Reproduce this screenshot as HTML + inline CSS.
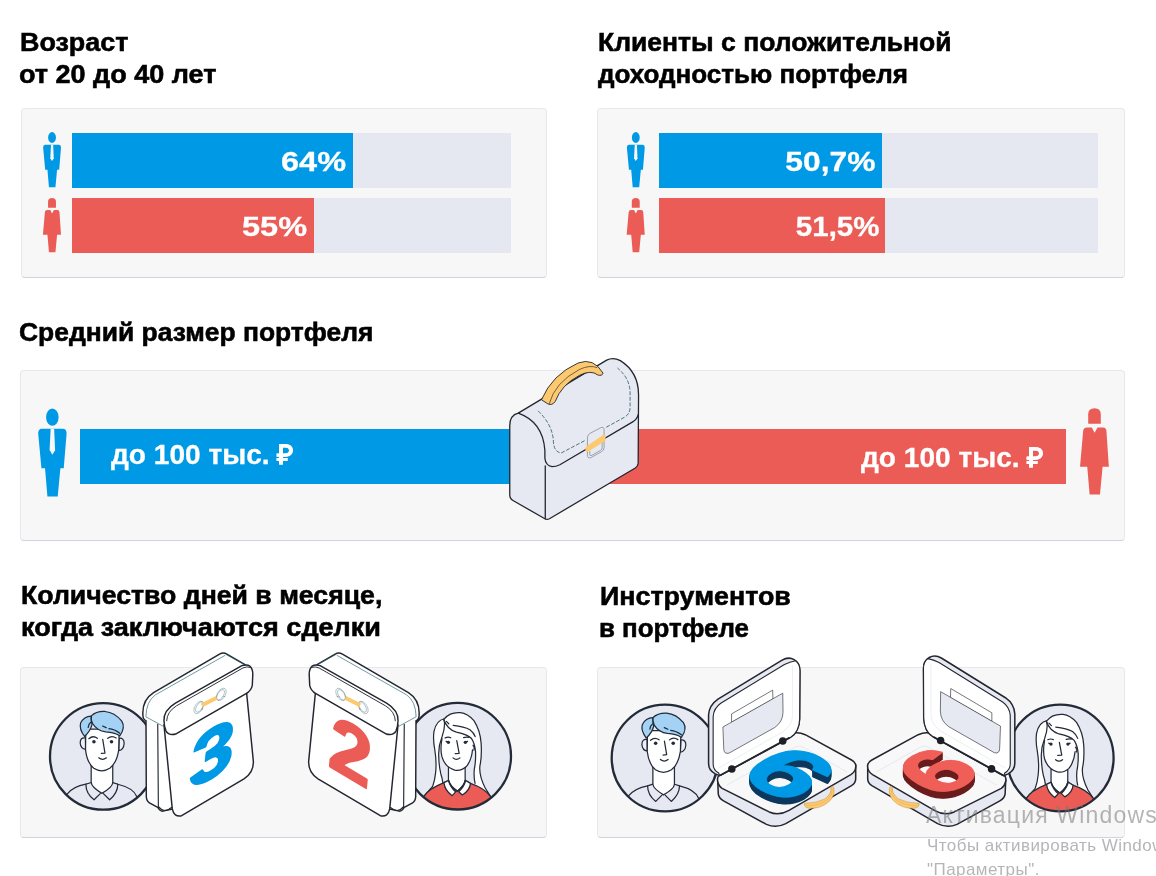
<!DOCTYPE html>
<html lang="ru">
<head>
<meta charset="utf-8">
<title>Инфографика</title>
<style>
html,body{margin:0;padding:0;background:#fff;}
body{width:1156px;height:876px;position:relative;overflow:hidden;font-family:"Liberation Sans",sans-serif;}
.h{position:absolute;font-weight:700;font-size:25px;line-height:32px;color:#000;white-space:nowrap;margin:0;transform-origin:0 0;transform:scaleX(1.07);-webkit-text-stroke:.55px #000;}
.panel{position:absolute;background:#f7f7f7;border:1px solid #e6e8ee;border-bottom-color:#cfd3de;border-radius:4px;box-sizing:border-box;}
.track{position:absolute;height:55px;background:#e5e8f1;}
.bar{position:absolute;height:55px;box-sizing:border-box;color:#fff;font-weight:700;font-size:28px;line-height:55px;text-align:right;white-space:nowrap;}
.bar span{-webkit-text-stroke:.3px #fff;display:inline-block;position:relative;top:1px;transform-origin:100% 50%;transform:scaleX(1.16);}
.mid{-webkit-text-stroke:.3px #fff;position:absolute;color:#fff;font-weight:700;font-size:27px;line-height:30px;white-space:nowrap;transform-origin:0 50%;transform:scaleX(1.04);}
.blue{background:#0099e5;}
.red{background:#ea5c55;}
svg{position:absolute;left:0;top:0;overflow:visible;}
.wm{position:absolute;color:rgba(120,120,120,.55);white-space:nowrap;font-weight:400;}
</style>
</head>
<body>
<div class="h" style="left:19.7px;top:26px;transform:scaleX(1.076);">Возраст</div>
<div class="h" style="left:19.2px;top:58px;transform:scaleX(1.08);">от 20 до 40 лет</div>
<div class="h" style="left:598.1px;top:26px;transform:scaleX(1.0606);">Клиенты с положительной</div>
<div class="h" style="left:597.7px;top:58px;transform:scaleX(1.04);">доходностью портфеля</div>
<div class="h" style="left:19px;top:316px;transform:scaleX(1.0574);">Средний размер портфеля</div>
<div class="h" style="left:21px;top:579.2px;transform:scaleX(1.066);">Количество дней в месяце,</div>
<div class="h" style="left:21px;top:611px;transform:scaleX(1.082);">когда заключаются сделки</div>
<div class="h" style="left:599.7px;top:579.5px;transform:scaleX(1.0734);">Инструментов</div>
<div class="h" style="left:598.7px;top:611.5px;transform:scaleX(1.0358);">в портфеле</div>

<div class="panel" style="left:21px;top:108px;width:526px;height:170px;"></div>
<div class="panel" style="left:597px;top:108px;width:528px;height:170px;"></div>
<div class="panel" style="left:20px;top:370px;width:1105px;height:171px;"></div>
<div class="panel" style="left:20px;top:667px;width:527px;height:171px;"></div>
<div class="panel" style="left:597px;top:667px;width:528px;height:171px;"></div>

<!-- panel 1 bars -->
<div class="track" style="left:72px;top:132.5px;width:439px;"></div>
<div class="track" style="left:72px;top:197.5px;width:439px;"></div>
<div class="bar blue" style="left:72px;top:132.5px;width:281px;padding-right:7px;"><span>64%</span></div>
<div class="bar red" style="left:72px;top:197.5px;width:241.5px;padding-right:6px;"><span>55%</span></div>

<!-- panel 2 bars -->
<div class="track" style="left:659px;top:132.5px;width:439px;"></div>
<div class="track" style="left:659px;top:197.5px;width:439px;"></div>
<div class="bar blue" style="left:659px;top:132.5px;width:222.5px;padding-right:6px;"><span style="transform:scaleX(1.134)">50,7%</span></div>
<div class="bar red" style="left:659px;top:197.5px;width:226px;padding-right:6px;"><span style="transform:scaleX(1.052)">51,5%</span></div>

<!-- panel 3 bars -->
<div class="bar blue" style="left:80px;top:429px;width:495px;height:54.5px;line-height:54px;text-align:left;"></div>
<div class="bar red" style="left:575px;top:429px;width:490.5px;height:54.5px;line-height:54px;"></div>

<div class="mid" style="left:110.5px;top:439.5px;">до 100 тыс. ₽</div>
<div class="mid" style="left:860.5px;top:442.5px;">до 100 тыс. ₽</div>
<svg id="art" width="1156" height="876" viewBox="0 0 1156 876">
<defs>
<g id="man"><ellipse cx="213" cy="153" rx="52" ry="72"/><path d="M125,250 L300,250 Q332,250 332,290 L308,580 L280,580 L258,815 L172,815 L152,580 L122,580 L95,290 Q95,250 125,250 Z"/><path d="M199,250 L228,250 L236,430 L213,466 L190,428 Z" fill="#f7f7f7"/></g>
<g id="woman"><path d="M160,210 L160,130 Q160,80 213,80 Q265,80 265,130 L265,210 Z"/><path d="M150,240 L190,240 L213,285 L238,240 L285,240 Q310,240 312,270 L332,568 L280,568 L258,800 L172,800 L152,568 L92,568 L118,270 Q120,240 150,240 Z"/></g>
</defs>
<g fill="#0099e5">
<use href="#man" transform="translate(36,126) scale(0.0753)"/>
<use href="#man" transform="translate(619.75,126) scale(0.0753)"/>
<use href="#man" transform="translate(26.8,398.8) scale(0.1199)"/>
</g>
<g fill="#ea5c55">
<use href="#woman" transform="translate(36,192) scale(0.0753)"/>
<use href="#woman" transform="translate(619.75,192) scale(0.0753)"/>
<use href="#woman" transform="translate(1069,398.6) scale(0.12)"/>
</g>
<g transform="translate(500,350) scale(0.1301)" stroke="#23262f" stroke-width="10" stroke-linejoin="round" stroke-linecap="round" fill="none">
<path d="M75,582 Q75,500 140,485 L820,78 Q870,52 925,82 Q1065,170 1065,345 L1062,872 Q1060,892 1040,907 L380,1297 Q360,1307 345,1297 L100,1157 Q75,1142 75,1112 Z" fill="#e6e9f2"/>
<path d="M140,485 Q330,552 345,772 L345,832 Q350,887 400,897 Q430,897 460,882 L1020,552 Q1055,532 1063,495"/>
<path d="M348,890 L348,1297"/>
<path d="M295,470 Q400,572 410,692 Q410,782 470,792 L660,692 M820,592 L960,515 Q1000,490 1000,440 L1000,330 Q1000,220 905,140" stroke="#345f62" stroke-width="6.5" stroke-dasharray="24 19"/>
<path d="M320,380 Q400,190 600,100 Q720,55 792,178 Q785,202 752,192 Q700,150 610,195 Q470,270 425,395 Q400,430 370,415 Z" fill="#fdc96f" stroke-width="7"/>
<path d="M378,414 Q420,250 610,150 Q690,112 745,135" stroke-width="5"/>
<path d="M672,672 Q672,652 690,642 L775,597 Q800,587 800,612 L800,752 Q800,772 780,782 L700,827 Q672,837 672,812 Z" fill="#e6e9f2" stroke="#6f7782" stroke-width="5"/>
<path d="M690,782 L690,802 Q690,817 705,810 L775,770 Q785,764 785,752 L785,707" stroke="#6f7782" stroke-width="5"/>
<path d="M668,738 L792,654 Q812,646 812,668 L810,698 L678,782 Q656,790 656,766 Q656,746 668,738 Z" fill="#fdc96f" stroke="none"/>
</g>

<defs>
<clipPath id="avclip"><circle r="53.3"/></clipPath>
<g id="avm">
<circle r="53.3" fill="#e6e9f2"/>
<g clip-path="url(#avclip)" stroke="#232b38" stroke-linecap="round" stroke-linejoin="round" fill="none">
<g transform="translate(-43.5,3.7) scale(0.07786)" stroke-width="16">
<path d="M335,310 Q170,340 90,440 L90,700 L990,700 L990,470 Q950,360 745,310 Z" fill="#e6e9f2"/>
<path d="M403,40 L403,290 Q410,350 540,425 Q675,350 680,290 L680,40 Z" fill="#fff"/>
<path d="M403,288 L335,310 Q335,430 440,510 L520,430" fill="#e6e9f2"/>
<path d="M682,290 L745,310 Q745,420 640,510 L560,430" fill="#e6e9f2"/>
<path d="M403,290 Q410,350 540,425 Q675,350 680,290" fill="#fff"/>
</g>
<g transform="translate(-33.5,-51.3) scale(0.07991)" stroke-width="15.5">
<path d="M195,410 Q130,400 130,475 Q135,545 198,555 Z" fill="#eef0f6"/>
<path d="M618,415 Q680,410 680,480 Q675,560 612,570 Z" fill="#eef0f6"/>
<path d="M200,300 L197,560 Q215,720 300,790 Q400,855 500,790 Q590,720 612,560 L618,300 Z" fill="#fff"/>
<path d="M268,137 Q175,140 135,225 Q115,300 185,392 Q255,330 278,245 Q262,190 268,137 Z" fill="#a3d2f5"/>
<path d="M270,135 Q330,75 440,80 Q560,90 650,200 Q700,280 625,385 Q560,340 450,335 Q340,320 285,230 Q262,180 270,135 Z" fill="#a3d2f5"/>
<path d="M262,215 Q235,235 230,280 M410,262 L455,282 M490,295 Q560,300 625,352"/>
<path d="M238,420 Q290,375 345,415 M475,415 Q525,375 580,412"/>
<circle cx="302" cy="458" r="22" fill="#232b38" stroke="none"/><circle cx="522" cy="458" r="22" fill="#232b38" stroke="none"/>
<path d="M412,430 L440,600 L395,605 M362,660 Q410,700 458,660"/>
</g>
</g>
<circle r="53.3" fill="none" stroke="#232b38" stroke-width="2.3"/>
</g>
<g id="avw">
<circle r="53.3" fill="#e6e9f2"/>
<g clip-path="url(#avclip)" stroke="#232b38" stroke-linecap="round" stroke-linejoin="round" fill="none">
<g transform="translate(-34.9,-51.2) scale(0.07991)" stroke-width="15.5">
<path d="M270,172 Q340,85 470,95 Q560,105 640,195 Q720,320 730,480 Q740,650 715,760 Q700,880 781,1039 L849,1146 L11,1146 L123,1020 Q150,950 160,850 Q175,720 150,560 Q125,430 140,330 Q170,190 270,172 Z" fill="#fff"/>
<path d="M228,460 Q195,560 200,650 Q202,760 225,860 Q245,920 250,971 L265,971 L321,944 L321,790 Q270,740 240,650 Q215,560 228,460 Z" fill="#e6e9f2" stroke="none"/>
<path d="M625,450 Q655,500 660,580 Q665,700 645,800 Q635,900 654,981 L596,981 L537,944 L530,942 L530,790 Q600,720 622,560 Z" fill="#e6e9f2" stroke="none"/>
<path d="M11,1146 Q70,1049 265,971 L321,944 L430,1078 L537,944 L596,981 Q771,1039 849,1146 L849,1330 L11,1330 Z" fill="#ea5c55"/>
<path d="M321,780 L321,942 Q343,1020 432,1078 Q518,1010 530,942 L530,780 Z" fill="#fff"/>
<path d="M321,944 L265,971 Q274,1068 367,1135 L411,1088 Q343,1030 321,944 Z" fill="#fff"/>
<path d="M537,944 L596,981 Q591,1068 494,1127 L450,1086 Q520,1020 537,944 Z" fill="#fff"/>
<path d="M321,942 Q343,1020 432,1078 Q518,1010 530,942"/>
<path d="M240,380 Q215,560 240,650 Q280,780 400,815 Q480,830 545,770 Q610,690 622,560 L612,400 L420,330 L290,270 Z" fill="#fff" stroke="none"/>
<path d="M240,420 Q215,560 240,650 Q280,780 400,815 Q480,830 545,770 Q610,690 622,560"/>
<path d="M628,505 Q655,525 640,565"/>
<path d="M262,178 Q300,300 420,340 Q560,370 610,420 Q650,480 660,580 Q665,700 645,800 Q635,900 654,981"/>
<path d="M262,180 Q290,260 240,400 Q190,520 200,650 Q202,760 225,860 Q245,920 250,971"/>
<path d="M380,255 Q520,270 590,310 Q640,350 655,395 M295,205 L325,235"/>
<path d="M280,412 Q315,395 350,410 M510,408 Q545,395 575,405 M292,455 L310,462 M560,455 L542,462"/>
<circle cx="320" cy="467" r="21" fill="#232b38" stroke="none"/><circle cx="532" cy="467" r="21" fill="#232b38" stroke="none"/>
<path d="M425,445 L455,605 L405,608 M378,662 Q420,700 465,662"/>
</g>
</g>
<circle r="53.3" fill="none" stroke="#232b38" stroke-width="2.3"/>
</g>
</defs>
<use href="#avm" transform="translate(103.3,756.4)"/>
<use href="#avw" transform="translate(457.7,756.2)"/>
<use href="#avm" transform="translate(665,758)"/>
<use href="#avw" transform="translate(1060.3,758)"/>
<defs>
<g id="cal" stroke="#23262f" stroke-width="14" stroke-linejoin="round" stroke-linecap="round" fill="none">
<path d="M47,640 Q40,500 150,430 L785,58 Q820,38 855,58 L1030,160 L1030,600 L330,1550 L240,1570 Q215,1575 190,1535 L110,1490 Q82,1475 80,1430 L77,700 Q50,690 47,650 Z" fill="#fff"/>
<path d="M836,72 L166,452 Q78,516 76,662 L240,752 M850,64 L1030,164" stroke="#2a6a6e" stroke-width="6.5"/>
<path d="M190,735 L196,1535 M202,1532 Q240,1580 290,1556 L322,1536" stroke-width="11"/>
<path d="M250,740 L330,1549 Q345,1629 420,1614 L1020,1259 Q1115,1199 1110,1089 L1045,430 Z" fill="#fff"/>
<path d="M250,700 Q245,600 360,530 L1000,170 Q1100,140 1105,250 L1100,360 Q1090,410 1040,440 L370,825 Q300,850 270,800 Q250,750 250,700 Z" fill="#fff"/>
<path d="M276,700 Q278,615 370,557 L1010,192 Q1050,175 1078,186" stroke-width="9"/>
<g stroke="#3d6b70" stroke-width="3.5">
<ellipse cx="585" cy="572" rx="38" ry="66" transform="rotate(32 585 572)"/>
<ellipse cx="592" cy="568" rx="28" ry="56" transform="rotate(32 592 568)"/>
<ellipse cx="802" cy="447" rx="38" ry="66" transform="rotate(32 802 447)"/>
<ellipse cx="795" cy="451" rx="28" ry="56" transform="rotate(32 795 451)"/>
</g>
<path d="M605,533 L750,461 L762,497 L624,568 Z" fill="#fdc96f" stroke="none"/>
</g>
</defs>
<use href="#cal" transform="translate(138,648) scale(0.1039)"/>
<use href="#cal" transform="translate(424,648) scale(-0.1039,0.1039)"/>
<text transform="translate(138,648) scale(0.1039) matrix(0.9632,-0.5712,0.0784,0.7960,515,1365)" font-family="Liberation Sans, sans-serif" font-weight="700" font-style="italic" font-size="800" fill="#0099e5" stroke="#0099e5" stroke-width="25" stroke-linejoin="round">3</text>
<text transform="translate(138,648) scale(0.1039) matrix(0.9030,0.5355,-0.0897,0.9104,1822,1126)" font-family="Liberation Sans, sans-serif" font-weight="700" font-size="800" fill="#ea5c55" stroke="#ea5c55" stroke-width="20" stroke-linejoin="round">2</text>

<defs>
<g id="case-base" stroke="#23262f" stroke-width="11" stroke-linejoin="round" stroke-linecap="round" fill="none">
<path d="M128,940 L132,1040 Q135,1070 170,1090 L480,1260 Q550,1290 620,1255 L1095,980 Q1125,960 1125,930 L1125,830 L700,700 L150,900 Z" fill="#e6e9f2"/>
<path d="M150,895 Q120,915 128,950 Q135,985 160,1000 L500,1170 Q570,1200 640,1160 L1090,900 Q1130,875 1125,830 Q1120,808 1095,795 L760,612 Q700,585 650,610 Z" fill="#f8f8f9"/>
<path d="M195,975 L690,700 Q720,690 745,702 L1060,880" stroke="#d9dde7" stroke-width="4"/>
<path d="M755,1112 Q748,1136 790,1144 Q880,1148 940,1088 Q978,1046 966,992 Q956,976 946,994 Q952,1040 902,1076 Q840,1106 775,1106 Q757,1104 755,1112 Z" fill="#fdc96f" stroke="#c9953f" stroke-width="4"/>
<path d="M772,1124 Q860,1128 925,1078 Q958,1045 956,1002" stroke="#e0ab52" stroke-width="3.5"/>
</g>
<g id="case-lid" stroke="#23262f" stroke-width="11" stroke-linejoin="round" stroke-linecap="round" fill="none">
<path d="M110,895 Q62,870 62,820 L62,470 Q65,400 130,355 L590,75 Q640,45 680,70 Q722,95 722,150 L720,500 Q716,592 655,630 L142,908 Z" fill="#e6e9f2"/>
<path d="M135,889 Q95,865 95,825 L95,480 Q100,420 150,385 L610,105 Q650,85 690,78 Q722,100 722,150 L720,500 Q716,592 655,630 L142,908 Z" fill="#fff" stroke-width="8"/>
<path d="M668,115 L668,480 Q665,545 600,590 L135,852" stroke="#dde0e9" stroke-width="4"/>
<path d="M228,520 L228,462 L525,290 L527,352 Z" fill="#fff" stroke-width="4.5"/>
<path d="M168,555 L598,312 L600,450 Q598,520 540,560 L210,745 Q175,755 172,720 Z" fill="#e6e9f2" stroke-width="4.5"/>
<path d="M150,903 L645,635" stroke-width="13"/>
<circle cx="230" cy="860" r="27" fill="#1d1f27" stroke="none"/><circle cx="598" cy="658" r="27" fill="#1d1f27" stroke="none"/>
</g>
<filter id="ext-b" x="-20%" y="-20%" width="140%" height="150%" filterUnits="objectBoundingBox" primitiveUnits="userSpaceOnUse">
<feOffset in="SourceAlpha" dy="1" result="o1"/><feOffset in="SourceAlpha" dy="2" result="o2"/><feOffset in="SourceAlpha" dy="3" result="o3"/><feOffset in="SourceAlpha" dy="4" result="o4"/><feOffset in="SourceAlpha" dy="5" result="o5"/><feOffset in="SourceAlpha" dy="6" result="o6"/><feOffset in="SourceAlpha" dy="7" result="o7"/>
<feMerge result="m"><feMergeNode in="o1"/><feMergeNode in="o2"/><feMergeNode in="o3"/><feMergeNode in="o4"/><feMergeNode in="o5"/><feMergeNode in="o6"/><feMergeNode in="o7"/></feMerge>
<feFlood flood-color="#07395d"/><feComposite in2="m" operator="in" result="side"/>
<feMerge><feMergeNode in="side"/><feMergeNode in="SourceGraphic"/></feMerge>
</filter>
<filter id="ext-r" x="-20%" y="-20%" width="140%" height="150%" filterUnits="objectBoundingBox" primitiveUnits="userSpaceOnUse">
<feOffset in="SourceAlpha" dy="1" result="o1"/><feOffset in="SourceAlpha" dy="2" result="o2"/><feOffset in="SourceAlpha" dy="3" result="o3"/><feOffset in="SourceAlpha" dy="4" result="o4"/><feOffset in="SourceAlpha" dy="5" result="o5"/><feOffset in="SourceAlpha" dy="6" result="o6"/><feOffset in="SourceAlpha" dy="7" result="o7"/>
<feMerge result="m"><feMergeNode in="o1"/><feMergeNode in="o2"/><feMergeNode in="o3"/><feMergeNode in="o4"/><feMergeNode in="o5"/><feMergeNode in="o6"/><feMergeNode in="o7"/></feMerge>
<feFlood flood-color="#6a1f1b"/><feComposite in2="m" operator="in" result="side"/>
<feMerge><feMergeNode in="side"/><feMergeNode in="SourceGraphic"/></feMerge>
</filter>
</defs>
<g transform="translate(700,650) scale(0.1384)"><use href="#case-base"/><use href="#case-lid"/></g>
<g transform="translate(1023.4,650) scale(-0.1384,0.1384)"><use href="#case-base"/><use href="#case-lid" transform="translate(0,-17) scale(1,1.019)"/></g>
<g filter="url(#ext-b)"><text transform="matrix(1.0392,0.6000,-0.8660,0.5000,734.2,773.5)" font-family="Liberation Sans, sans-serif" font-weight="700" font-size="94" fill="#0099e5" stroke="#0099e5" stroke-width="1.5" stroke-linejoin="round">6</text></g>
<g filter="url(#ext-r)"><text transform="matrix(0.9959,-0.5750,0.8660,0.5000,939.3,799.3)" font-family="Liberation Sans, sans-serif" font-weight="700" font-size="84" fill="#ef5f59" stroke="#ef5f59" stroke-width="1.5" stroke-linejoin="round">6</text></g>
</svg>

<div class="wm" style="left:926px;top:799px;font-size:23px;line-height:32px;letter-spacing:1.17px;">Активация Windows</div>
<div class="wm" style="left:927px;top:834px;font-size:17px;line-height:24px;letter-spacing:.45px;">Чтобы активировать Windows, перейдите в раздел<br>"Параметры".</div>
</body>
</html>
